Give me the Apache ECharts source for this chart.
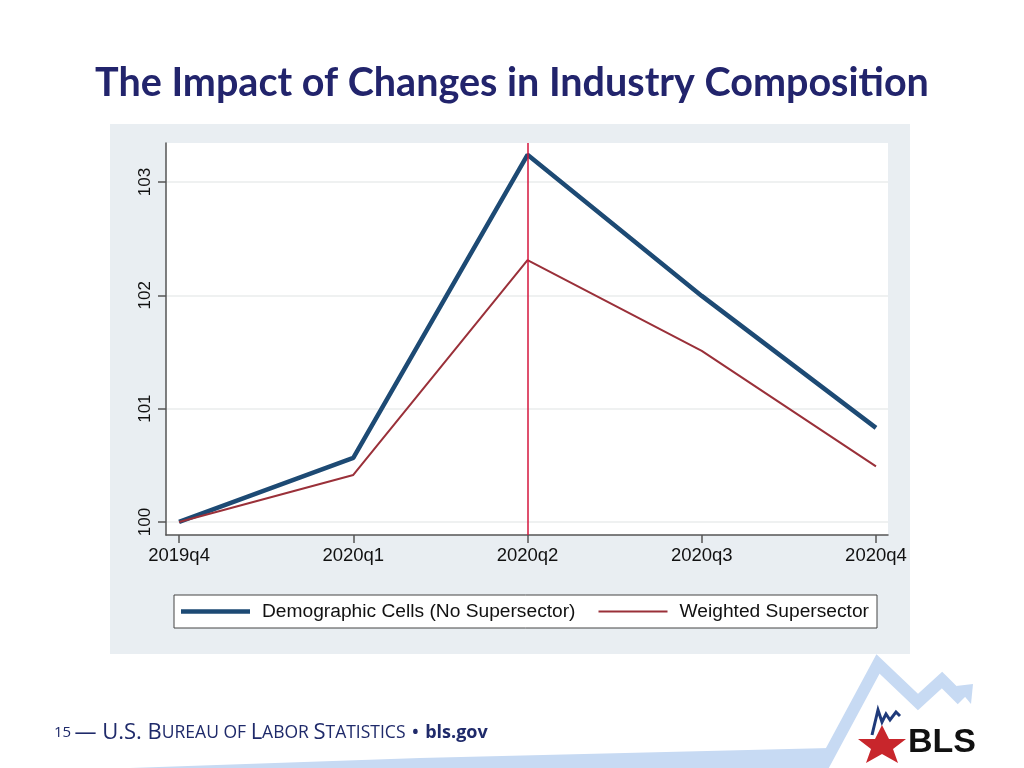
<!DOCTYPE html>
<html>
<head>
<meta charset="utf-8">
<script src="https://cdn.jsdelivr.net/npm/echarts@6.0.0/dist/echarts.min.js"></script>
<style>
html,body{margin:0;padding:0;background:#ffffff;}
#chart{width:1024px;height:768px;}
</style>
</head>
<body>
<div id="chart"></div>
<script>
const quarters = ['2019q4', '2020q1', '2020q2', '2020q3', '2020q4'];
const demographicCells = [100.00, 100.565, 103.24, 101.995, 100.83];
const weightedSupersector = [100.00, 100.415, 102.31, 101.51, 100.49];
const yTicks = [100, 101, 102, 103];
const markerQuarter = 2;
const seriesNames = ['Demographic Cells (No Supersector)', 'Weighted Supersector'];

const chart = echarts.init(document.getElementById('chart'), null, {renderer: 'canvas'});

const toPairs = arr => arr.map((v, i) => [i, v]);
const xTickIdx = quarters.map((q, i) => i);

const option = {
  backgroundColor: '#ffffff',
  animation: false,
  title: {
    text: 'The Impact of Changes in Industry Composition',
    left: 'center',
    top: 58,
    textStyle: {fontFamily: 'Lato', fontWeight: 'bold', fontSize: 39.5, color: '#22246c'}
  },
  graphic: [
    {type: 'rect', z: -10, silent: true, shape: {x: 110, y: 124, width: 800, height: 530}, style: {fill: '#e9eef2'}},
    // footer swoosh
    {type: 'polygon', z: -5, silent: true, shape: {points: [[130, 768], [822, 768], [830, 748], [420, 758]]}, style: {fill: '#c7daf3'}},
    {type: 'polyline', z: -5, silent: true, shape: {points: [[822, 768], [878, 664], [918, 702], [942, 680], [962, 700]]}, style: {stroke: '#c7daf3', lineWidth: 12, fill: null}},
    {type: 'polygon', z: -5, silent: true, shape: {points: [[956, 686], [973, 684], [971, 704]]}, style: {fill: '#c7daf3'}},
    {type: 'text', silent: true, left: 908, top: 726, style: {text: 'BLS', font: 'bold 34px "Liberation Sans Narrow", "Liberation Sans", sans-serif', fill: '#111111'}},
    {type: 'polygon', silent: true, shape: {points: [[858, 739], [875, 739], [882, 725], [889, 739], [906, 739], [893, 749], [898, 763], [882, 754], [866, 763], [871, 749]]}, style: {fill: '#c8262c'}},
    {type: 'polyline', silent: true, shape: {points: [[872, 735], [878, 710], [882, 722], [886, 714], [890, 720], [896, 712], [900, 716]]}, style: {stroke: '#1f3a7a', lineWidth: 3, fill: null}},
    {type: 'text', silent: true, left: 54, top: 722, style: {
      text: '{n|15} {d|— U.S. B}{s|UREAU OF }{d|L}{s|ABOR }{d|S}{s|TATISTICS}{d| • }{b|bls.gov}',
      rich: {
        n: {fontSize: 15, fill: '#1f2a6a', fontFamily: 'Open Sans'},
        d: {fontSize: 22, fill: '#1f2a6a', fontFamily: 'Open Sans'},
        s: {fontSize: 17.5, fill: '#1f2a6a', fontFamily: 'Open Sans'},
        b: {fontSize: 18, fill: '#1f2a6a', fontFamily: 'Open Sans', fontWeight: 'bold'}
      }
    }}
  ],
  grid: {
    left: 166, right: 136, top: 143, bottom: 233,
    show: true, backgroundColor: '#ffffff', borderWidth: 0
  },
  legend: {
    left: 174, top: 595,
    padding: [7, 8, 7, 7],
    itemGap: 23,
    itemWidth: 69, itemHeight: 14,
    backgroundColor: '#ffffff',
    borderColor: '#444444', borderWidth: 1,
    textStyle: {fontFamily: 'Liberation Sans', fontSize: 19.2, color: '#111111', padding: [0, 0, 0, 7]},
    data: [
      {name: seriesNames[0], icon: 'path://M0,0H69V4.5H0Z'},
      {name: seriesNames[1], icon: 'path://M0,0H69V2H0Z'}
    ]
  },
  xAxis: {
    type: 'value', min: -0.075, max: 4.069,
    axisLine: {show: true, onZero: false, lineStyle: {color: '#555555', width: 1.5}},
    axisTick: {show: true, length: 8, customValues: xTickIdx, lineStyle: {color: '#555555', width: 1.5}},
    axisLabel: {customValues: xTickIdx, margin: 11, fontFamily: 'Liberation Sans', fontSize: 18.5, color: '#111111',
      formatter: v => quarters[Math.round(v)]},
    splitLine: {show: false}
  },
  yAxis: {
    type: 'value', min: 99.885, max: 103.344,
    axisLine: {show: true, onZero: false, lineStyle: {color: '#555555', width: 1.5}},
    axisTick: {show: true, length: 8, customValues: yTicks, lineStyle: {color: '#555555', width: 1.5}},
    axisLabel: {customValues: yTicks, rotate: 90, margin: 12, fontFamily: 'Liberation Sans', fontSize: 17, color: '#111111',
      formatter: v => String(Math.round(v))},
    splitLine: {show: true, lineStyle: {color: '#eaeced', width: 1.5}}
  },
  series: [
    {
      name: seriesNames[0], type: 'line', data: toPairs(demographicCells),
      symbol: 'none', z: 3,
      lineStyle: {color: '#1d4a74', width: 4.5}, itemStyle: {color: '#1d4a74'},
      markLine: {
        silent: true, symbol: 'none', label: {show: false},
        lineStyle: {color: '#d4163c', width: 1.5, type: 'solid'},
        data: [{xAxis: markerQuarter}]
      }
    },
    {
      name: seriesNames[1], type: 'line', data: toPairs(weightedSupersector),
      symbol: 'none', z: 4,
      lineStyle: {color: '#9a3039', width: 2}, itemStyle: {color: '#9a3039'}
    }
  ]
};
chart.setOption(option);
</script>
</body>
</html>
